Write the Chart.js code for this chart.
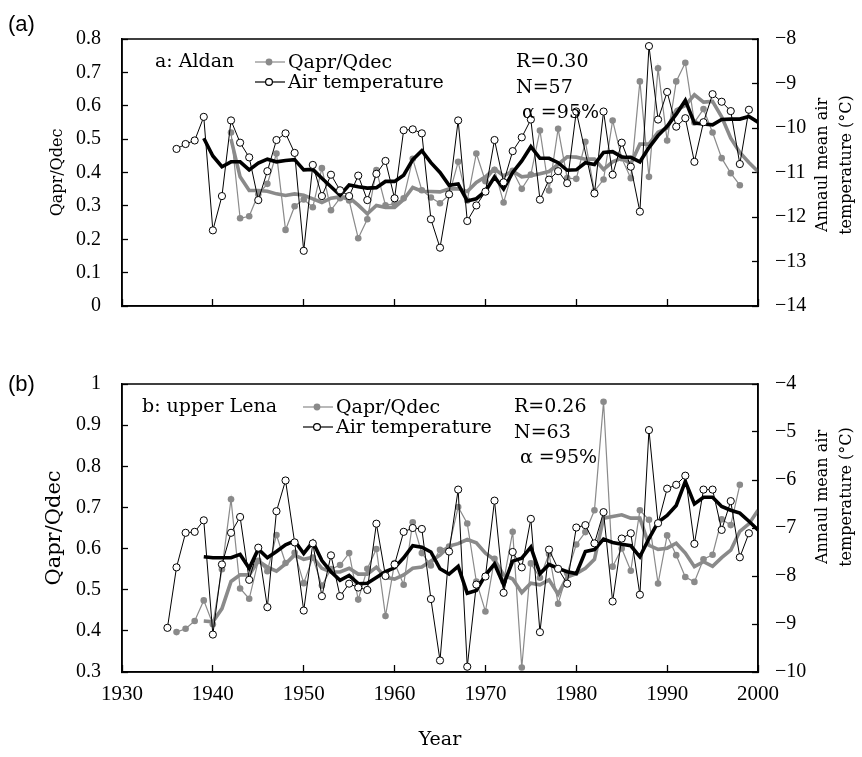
<!DOCTYPE html>
<html>
<head>
<meta charset="utf-8">
<script src="https://cdn.jsdelivr.net/npm/chart.js@4.4.1/dist/chart.umd.min.js"></script>
<style>
  body { margin: 0; background: #fff; }
  #wrap { position: relative; width: 862px; height: 757px; }
  canvas { position: absolute; left: 0; }
  #aldanCTX { top: 0; width: 862px; height: 345px; }
  #lenaCTX { top: 345px; width: 862px; height: 412px; }
</style>
</head>
<body>
<div id="wrap">
  <canvas id="aldanCTX" width="862" height="345"></canvas>
  <canvas id="lenaCTX" width="862" height="412"></canvas>
</div>
<script>
const aldanWrapper = document.getElementById("aldanCTX");
const lenaWrapper = document.getElementById("lenaCTX");

// years on the x axis, every series below is aligned to this list
const years = [
  1935, 1936, 1937, 1938, 1939,
  1940, 1941, 1942, 1943, 1944, 1945, 1946, 1947, 1948, 1949,
  1950, 1951, 1952, 1953, 1954, 1955, 1956, 1957, 1958, 1959,
  1960, 1961, 1962, 1963, 1964, 1965, 1966, 1967, 1968, 1969,
  1970, 1971, 1972, 1973, 1974, 1975, 1976, 1977, 1978, 1979,
  1980, 1981, 1982, 1983, 1984, 1985, 1986, 1987, 1988, 1989,
  1990, 1991, 1992, 1993, 1994, 1995, 1996, 1997, 1998, 1999,
  2000,
];

// (a) Aldan
const aldanQ = [
  null, null, null, null, null,
  null, null, 0.52, 0.263, 0.269, 0.335, 0.366, 0.457, 0.228, 0.299,
  0.319, 0.296, 0.413, 0.287, 0.323, 0.316, 0.203, 0.26, 0.407, 0.302,
  0.306, 0.323, 0.441, 0.347, 0.325, 0.308, 0.333, 0.432, 0.316, 0.457,
  0.374, 0.408, 0.31, 0.405, 0.351, 0.394, 0.526, 0.346, 0.531, 0.383,
  0.381, 0.492, 0.344, 0.379, 0.556, 0.443, 0.383, 0.673, 0.387, 0.712,
  0.496, 0.673, 0.729, 0.55, 0.59, 0.52, 0.443, 0.398, 0.362, null,
  null,
];
const aldanT = [
  null, -10.47, -10.36, -10.28, -9.75,
  -12.3, -11.53, -9.83, -10.33, -10.66, -11.62, -10.97, -10.27, -10.12, -10.56,
  -12.76, -10.83, -11.53, -11.05, -11.4, -11.53, -11.07, -11.62, -11.03, -10.74,
  -11.58, -10.05, -10.03, -10.12, -12.05, -12.69, -11.49, -9.83, -12.09, -11.74,
  -11.43, -10.27, -11.22, -10.52, -10.21, -9.81, -11.61, -11.16, -10.97, -11.24,
  -9.63, null, -11.47, -9.63, -11.05, -10.33, -10.87, -11.88, -8.16, -9.81,
  -9.19, -9.97, -9.78, -10.76, -9.87, -9.24, -9.41, -9.62, -10.81, -9.59,
  null,
];
const aldanQavg = [
  null, null, null, null, null,
  null, null, 0.5, 0.387, 0.346, 0.346, 0.344, 0.336, 0.331, 0.336,
  0.332, 0.321, 0.31, 0.323, 0.327, 0.325, 0.302, 0.276, 0.301, 0.295,
  0.295, 0.319, 0.355, 0.344, 0.343, 0.342, 0.351, 0.351, 0.343, 0.37,
  0.387, 0.411, 0.39, 0.404, 0.387, 0.39, 0.396, 0.403, 0.424, 0.447,
  0.446, 0.44, 0.44, 0.409, 0.432, 0.443, 0.426, 0.485, 0.485, 0.521,
  0.533, 0.588, 0.601, 0.633, 0.611, 0.613, 0.567, 0.503, 0.46, 0.43,
  0.403,
];
const aldanTavg = [
  null, null, null, null, -10.23,
  -10.63, -10.87, -10.76, -10.76, -10.94, -10.79, -10.7, -10.76, -10.73, -10.71,
  -10.94, -10.93, -11.13, -11.32, -11.51, -11.28, -11.32, -11.35, -11.34, -11.2,
  -11.2, -11.06, -10.71, -10.51, -10.78, -11.0, -11.29, -11.26, -11.64, -11.59,
  -11.42, -11.1, -11.37, -11.0, -10.74, -10.42, -10.68, -10.68, -10.78, -10.95,
  -10.94, -10.78, -10.82, -10.55, -10.53, -10.65, -10.66, -10.76, -10.44, -10.17,
  -9.96, -9.69, -9.38, -9.89, -9.91, -9.93, -9.81, -9.8, -9.8, -9.74,
  -9.87,
];

// (b) upper Lena
const lenaQ = [
  null, 0.397, 0.405, 0.424, 0.474,
  0.416, 0.55, 0.72, 0.503, 0.478, 0.57, 0.545, 0.633, 0.565, 0.59,
  0.516, 0.578, 0.51, 0.55, 0.56, 0.589, 0.476, 0.551, 0.599, 0.436,
  0.565, 0.512, 0.664, 0.589, 0.559, 0.597, 0.605, 0.701, 0.661, 0.52,
  0.447, 0.575, 0.52, 0.641, 0.311, 0.564, 0.529, 0.587, 0.466, 0.54,
  0.61, 0.64, 0.693, 0.957, 0.556, 0.6, 0.546, 0.693, 0.67, 0.515,
  0.632, 0.584, 0.531, 0.519, 0.574, 0.585, 0.671, 0.657, 0.755, null,
  null,
];
const lenaT = [
  -9.08, -7.82, -7.1, -7.08, -6.84,
  -9.22, -7.76, -7.1, -6.77, -8.08, -7.41, -8.65, -6.65, -6.01, -7.3,
  -8.72, -7.32, -8.42, -7.57, -8.42, -8.16, -8.24, -8.29, -6.91, -8.0,
  -7.76, -7.08, -7.0, -7.02, -8.48, -9.76, -7.49, -6.2, -9.89, -8.18,
  -8.01, -6.43, -8.35, -7.5, -7.82, -6.81, -9.17, -7.45, -7.85, -8.16,
  -6.99, -6.94, -7.32, -6.67, -8.53, -7.22, -7.11, -8.39, -4.96, -6.9,
  -6.18, -6.1, -5.91, -7.33, -6.2, -6.2, -7.04, -6.44, -7.61, -7.11,
  null,
];
const lenaQavg = [
  null, null, null, null, 0.424,
  0.422, 0.454, 0.52, 0.536, 0.536, 0.57, 0.555, 0.545, 0.563, 0.584,
  0.574, 0.579, 0.552, 0.543, 0.543, 0.552, 0.538, 0.538, 0.555, 0.53,
  0.526, 0.536, 0.552, 0.555, 0.57, 0.584, 0.606, 0.612, 0.622, 0.614,
  0.589, 0.573, 0.536, 0.526, 0.493, 0.516, 0.512, 0.524, 0.489, 0.531,
  0.539, 0.552, 0.574, 0.674, 0.678, 0.682, 0.674, 0.674, 0.608, 0.598,
  0.601, 0.613, 0.589, 0.556, 0.568, 0.557, 0.578, 0.596, 0.642, 0.66,
  0.693,
];
const lenaTavg = [
  null, null, null, null, -7.6,
  -7.62, -7.62, -7.62, -7.55, -7.84, -7.44, -7.62, -7.49, -7.35, -7.27,
  -7.53, -7.29, -7.68, -7.91, -8.09, -7.99, -8.16, -8.15, -8.03, -7.91,
  -7.83, -7.62, -7.37, -7.4, -7.5, -7.85, -7.96, -7.8, -8.36, -8.3,
  -7.98, -7.75, -8.18, -7.69, -7.63, -7.4, -7.95, -7.76, -7.84, -7.91,
  -7.95, -7.49, -7.45, -7.23, -7.3, -7.34, -7.37, -7.6, -7.22, -6.88,
  -6.74, -6.53, -6.03, -6.5, -6.36, -6.36, -6.55, -6.63, -6.69, -6.86,
  -7.04,
];

// tick labels
const yearTicks = [1930, 1940, 1950, 1960, 1970, 1980, 1990, 2000];
const aldanQTicks = [0, 0.1, 0.2, 0.3, 0.4, 0.5, 0.6, 0.7, 0.8];
const aldanTTicks = [-14, -13, -12, -11, -10, -9, -8];
const lenaQTicks = [0.3, 0.4, 0.5, 0.6, 0.7, 0.8, 0.9, 1];
const lenaTTicks = [-10, -9, -8, -7, -6, -5, -4];

const legendQ = "Qapr/Qdec";
const legendT = "Air temperature";
const leftTitle = "Qapr/Qdec";
const rightTitle = ["Annaul mean air", "temperature (\u00b0C)"];

const GRAY = "#8a8a8a";
const TICK_FONT = { family: "Liberation Serif", size: 20 };
const TEXT_FONT = '"DejaVu Serif"';

function toPoints(values) {
  return years.map((y, i) => ({ x: y, y: values[i] }));
}

function fmtQ(v) {
  return Number.isInteger(v) ? String(v) : v.toFixed(1);
}
function fmtT(v) {
  return v < 0 ? "\u2212" + Math.abs(v) : String(v);
}

function makeDatasets(q, t, qAvg, tAvg) {
  return [
    {
      label: legendQ,
      data: toPoints(q),
      yAxisID: "y",
      borderColor: GRAY,
      borderWidth: 1.2,
      pointRadius: 3.3,
      pointBackgroundColor: GRAY,
      pointBorderColor: GRAY,
      pointBorderWidth: 0,
      order: 3,
    },
    {
      label: "Q avg",
      data: toPoints(qAvg),
      yAxisID: "y",
      borderColor: GRAY,
      borderWidth: 3.6,
      pointRadius: 0,
      order: 2,
    },
    {
      label: "T avg",
      data: toPoints(tAvg),
      yAxisID: "y2",
      borderColor: "#000",
      borderWidth: 3.6,
      pointRadius: 0,
      order: 1,
    },
    {
      label: legendT,
      data: toPoints(t),
      yAxisID: "y2",
      borderColor: "#000",
      borderWidth: 1,
      pointRadius: 3.6,
      pointBackgroundColor: "#fff",
      pointBorderColor: "#000",
      pointBorderWidth: 1,
      spanGaps: true,
      order: 0,
    },
  ];
}

const gridOpts = {
  drawOnChartArea: false,
  tickLength: -6,
  tickColor: "#000",
  tickWidth: 1.3,
};
const borderOpts = { color: "#000", width: 1.5 };

function makeOptions(cfg) {
  return {
    responsive: false,
    animation: false,
    devicePixelRatio: 1,
    layout: { padding: { top: cfg.padTop, right: 0, bottom: 0, left: 0 } },
    elements: { line: { tension: 0 } },
    scales: {
      x: {
        type: "linear",
        min: 1930,
        max: 2000,
        afterBuildTicks: (axis) => {
          axis.ticks = yearTicks.map((v) => ({ value: v }));
        },
        afterFit: (axis) => {
          axis.height = cfg.xHeight;
        },
        grid: Object.assign({}, gridOpts, { tickLength: -7 }),
        border: borderOpts,
        ticks: {
          display: cfg.showX,
          font: { family: "Liberation Serif", size: 21 },
          color: "#000",
          padding: 17,
          maxRotation: 0,
          callback: (v) => String(v),
        },
        title: {
          display: cfg.showX,
          text: "Year",
          font: { family: "DejaVu Serif", size: 19 },
          color: "#000",
          padding: { top: 0, bottom: 6 },
        },
      },
      y: {
        position: "left",
        min: cfg.qTicks[0],
        max: cfg.qTicks[cfg.qTicks.length - 1],
        afterBuildTicks: (axis) => {
          axis.ticks = cfg.qTicks.map((v) => ({ value: v }));
        },
        afterFit: (axis) => {
          axis.width = 122;
        },
        grid: gridOpts,
        border: borderOpts,
        ticks: {
          font: TICK_FONT,
          color: "#000",
          padding: 27,
          callback: (v) => fmtQ(v),
        },
        title: {
          display: true,
          text: leftTitle,
          font: { family: "DejaVu Serif", size: cfg.leftTitleSize },
          color: "#000",
          padding: { top: cfg.leftTitlePad, bottom: 0 },
        },
      },
      y2: {
        position: "right",
        min: cfg.tTicks[0],
        max: cfg.tTicks[cfg.tTicks.length - 1],
        afterBuildTicks: (axis) => {
          axis.ticks = cfg.tTicks.map((v) => ({ value: v }));
        },
        afterFit: (axis) => {
          axis.width = 104;
        },
        grid: gridOpts,
        border: borderOpts,
        ticks: {
          font: TICK_FONT,
          color: "#000",
          padding: 23,
          callback: (v) => fmtT(v),
        },
      },
    },
    plugins: {
      legend: { display: false },
      tooltip: { enabled: false },
      panelText: cfg.text,
    },
  };
}

// frame, panel letter, in-plot legend, statistics and right axis title
const panelText = {
  id: "panelText",
  afterDraw(chart, args, o) {
    const { ctx, chartArea: a } = chart;
    ctx.save();
    ctx.strokeStyle = "#000";
    ctx.lineWidth = 1.5;
    ctx.strokeRect(a.left, a.top, a.right - a.left, a.bottom - a.top);

    ctx.fillStyle = "#000";
    ctx.textBaseline = "middle";
    ctx.textAlign = "left";
    ctx.font = '22px "Liberation Sans"';
    ctx.fillText(o.panel, 8, o.panelY);

    ctx.font = "19px " + TEXT_FONT;
    ctx.fillText(o.site, a.left + o.siteX, a.top + 23);

    const rows = [
      { text: legendQ, color: GRAY, fill: GRAY, hollow: false },
      { text: legendT, color: "#000", fill: "#fff", hollow: true },
    ];
    rows.forEach((row, i) => {
      const y = a.top + 23 + i * 20;
      const x0 = a.left + o.legendX;
      ctx.strokeStyle = row.color;
      ctx.lineWidth = 1.2;
      ctx.beginPath();
      ctx.moveTo(x0, y);
      ctx.lineTo(x0 + 30, y);
      ctx.stroke();
      ctx.beginPath();
      ctx.arc(x0 + 14, y, 3.4, 0, Math.PI * 2);
      ctx.fillStyle = row.fill;
      ctx.fill();
      if (row.hollow) ctx.stroke();
      ctx.fillStyle = "#000";
      ctx.fillText(row.text, x0 + 33, y + 1);
    });

    ctx.fillText(o.stats[0], a.left + o.statsX, a.top + 23);
    ctx.fillText(o.stats[1], a.left + o.statsX, a.top + 49);
    ctx.fillText(o.stats[2], a.left + o.statsX + 6, a.top + 74);

    ctx.translate(823, o.rightTitleY);
    ctx.rotate(-Math.PI / 2);
    ctx.textAlign = "center";
    ctx.font = "16px " + TEXT_FONT;
    ctx.fillText(rightTitle[0], 0, 0);
    ctx.fillText(rightTitle[1], 0, 24);
    ctx.restore();
  },
};

const aldanCTX = new Chart(aldanWrapper, {
  type: "line",
  data: { datasets: makeDatasets(aldanQ, aldanT, aldanQavg, aldanTavg) },
  options: makeOptions({
    padTop: 19,
    xHeight: 14,
    showX: false,
    qTicks: aldanQTicks,
    tTicks: aldanTTicks,
    leftTitleSize: 16,
    leftTitlePad: 48,
    text: {
      panel: "(a)",
      panelY: 25,
      site: "a: Aldan",
      siteX: 33,
      legendX: 133,
      statsX: 394,
      stats: ["R=0.30", "N=57", "\u03b1 =95%"],
      rightTitleY: 165,
    },
  }),
  plugins: [panelText],
});

const lenaCTX = new Chart(lenaWrapper, {
  type: "line",
  data: { datasets: makeDatasets(lenaQ, lenaT, lenaQavg, lenaTavg) },
  options: makeOptions({
    padTop: 24,
    xHeight: 85,
    showX: true,
    qTicks: lenaQTicks,
    tTicks: lenaTTicks,
    leftTitleSize: 21,
    leftTitlePad: 42,
    text: {
      panel: "(b)",
      panelY: 40,
      site: "b: upper Lena",
      siteX: 20,
      legendX: 181,
      statsX: 392,
      stats: ["R=0.26", "N=63", "\u03b1 =95%"],
      rightTitleY: 152,
    },
  }),
  plugins: [panelText],
});
</script>
</body>
</html>
